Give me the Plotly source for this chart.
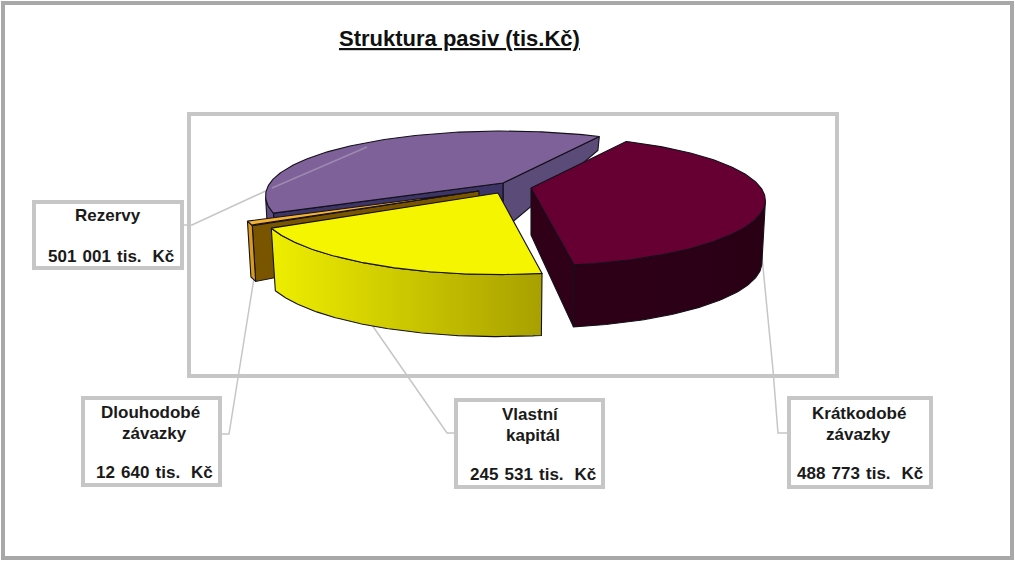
import numpy as np
import plotly.graph_objects as go

# Chart data (tis. Kc), clockwise from the top right
categories = [["Krátkodobé", "závazky"], ["Vlastní", "kapitál"], ["Dlouhodobé", "závazky"], ["Rezervy"]]
values = [488773, 245531, 12640, 501001]
title_text = "Struktura pasiv (tis.Kč)"

# Look of each slice
apex_x = [531, 498, 479, 503]
apex_y = [188, 193, 191, 183]
radius = [230, 235, 235, 233]
squash_front = [65, 68, 67, 67]
thickness = [1, 1, 0.9, 1]
top_colors = ["#660033", "#f5f500", "#f4b22e", "#7f619a"]
wall_colors = ["#2f0018", "#000000", "#7a5500", "#3d3565"]
rim_colors = [["#2e0018", "#2a0015"], ["#eeee00", "#a8a000"], ["#d89a20", "#d89a20"], ["#5f4f80", "#5f4f80"]]
second_wall = "#5b4b78"

# Text boxes: left, top, right, bottom, and where each text line sits
boxes = [(789, 398, 931, 487), (456, 400, 603, 487), (83, 398, 220, 485), (34, 202, 182, 268)]
line_x = [[859, 858, 860], [530, 533, 533], [150, 154, 154], [108, 111]]
line_y = [[413, 434, 473], [414, 435, 474], [412, 433, 472], [215, 256]]
leader_x = [[789, 778, 773, 762], [455, 447, 372], [220, 229, 254], [182, 192, 272]]
leader_y = [[433, 433, 370, 257], [433, 433, 325], [434, 434, 278], [225, 225, 188]]

START_ANGLE = 60
GREY = "#c6c6c6"


def project(i, th):
    sin_th = np.sin(th)
    s = 1 - 0.2 * sin_th
    squash = np.where(sin_th > 0, 65, squash_front[i])
    return apex_x[i] + radius[i] * np.cos(th) * s, apex_y[i] - squash * sin_th * s


def depth(i, th):
    # the pie gets thinner towards the back
    sin_th = np.sin(th)
    return thickness[i] * np.where(sin_th > 0, 62 - 64 * sin_th ** 2, 62)


def add_poly(fig, x, y, color=None, gradient=None):
    x = list(x) + [x[0]]
    y = list(y) + [y[0]]
    trace = dict(x=x, y=y, mode="lines", fill="toself", hoverinfo="skip", showlegend=False,
                 line=dict(color="#14101a", width=1.1))
    if gradient:
        trace["fillgradient"] = dict(type="horizontal", colorscale=[[0, gradient[0]], [1, gradient[1]]])
    else:
        trace["fillcolor"] = color
    fig.add_trace(go.Scatter(**trace))


def add_wall(fig, i, th, color):
    ex, ey = project(i, th)
    low_x = apex_x[i] + (ex - apex_x[i]) * 0.985
    add_poly(fig, [apex_x[i], ex, low_x, apex_x[i]],
             [apex_y[i], ey, ey + float(depth(i, th)), apex_y[i] + 47], color)


fig = go.Figure()

fractions = np.array(values) / sum(values)
starts = []
ends = []
angle = np.radians(START_ANGLE)
for f in fractions:
    starts.append(angle)
    angle = angle - 2 * np.pi * f
    ends.append(angle)

# back to front: Rezervy, Dlouhodobe, Vlastni, Kratkodobe
for i in [3, 2, 1, 0]:
    th = np.linspace(starts[i], ends[i], 160)
    tx, ty = project(i, th)

    if i == 3:
        add_wall(fig, i, ends[i], second_wall)
        add_wall(fig, i, starts[i], wall_colors[i])
    if i == 2:
        add_wall(fig, i, starts[i], wall_colors[i])
    if i == 0:
        add_wall(fig, i, ends[i], wall_colors[i])

    # outer rim only where it faces the viewer
    front = np.sin(th) <= -0.19
    rx, ry, rth = tx[front], ty[front], th[front]
    low_x = apex_x[i] + (rx - apex_x[i]) * 0.985
    low_y = ry + depth(i, rth)
    add_poly(fig, list(rx) + list(low_x[::-1]), list(ry) + list(low_y[::-1]), gradient=rim_colors[i])
    add_poly(fig, [apex_x[i]] + list(tx), [apex_y[i]] + list(ty), top_colors[i])

shapes = [
    dict(type="rect", x0=3, y0=3, x1=1012, y1=558, line=dict(color="#a8a8a8", width=4), layer="below"),
    dict(type="rect", x0=189, y0=114, x1=837, y1=376, line=dict(color=GREY, width=4), layer="below"),
]
for lx, ly in zip(leader_x, leader_y):
    path = "M " + " L ".join(f"{px},{py}" for px, py in zip(lx, ly))
    shapes.append(dict(type="path", path=path, line=dict(color=GREY, width=1.5), layer="below"))
for b in boxes:
    shapes.append(dict(type="rect", x0=b[0], y0=b[1], x1=b[2], y1=b[3], fillcolor="white",
                       line=dict(color=GREY, width=4), layer="below"))
# the Rezervy leader carries on faintly across the purple top
shapes.append(dict(type="line", x0=272, y0=188, x1=367, y1=147,
                   line=dict(color="rgba(190,190,200,0.45)", width=1.5)))

annotations = [dict(x=459, y=38, xref="x", yref="y", text=f"<b><u>{title_text}</u></b>", showarrow=False,
                    font=dict(family="Liberation Sans", size=22, color="#111111"))]
for name, val, xs, ys in zip(categories, values, line_x, line_y):
    val_text = f"{val:,}".replace(",", " ") + " tis.\u00a0 Kč"
    val_text = val_text.replace(" ", "\u00a0\u200a")
    for text, x, y in zip(name + [val_text], xs, ys):
        annotations.append(dict(x=x, y=y, xref="x", yref="y", showarrow=False, text=f"<b>{text}</b>",
                                font=dict(family="Liberation Sans", size=17, color="#1a1a1a")))

fig.update_layout(
    width=1015, height=561, margin=dict(l=0, r=0, t=0, b=0),
    paper_bgcolor="white", plot_bgcolor="white", showlegend=False,
    xaxis=dict(range=[0, 1015], visible=False, fixedrange=True),
    yaxis=dict(range=[561, 0], visible=False, fixedrange=True),
    shapes=shapes, annotations=annotations,
)

fig.write_html("out.html", config={"displayModeBar": False},
               post_script="document.body.style.margin='0';")
